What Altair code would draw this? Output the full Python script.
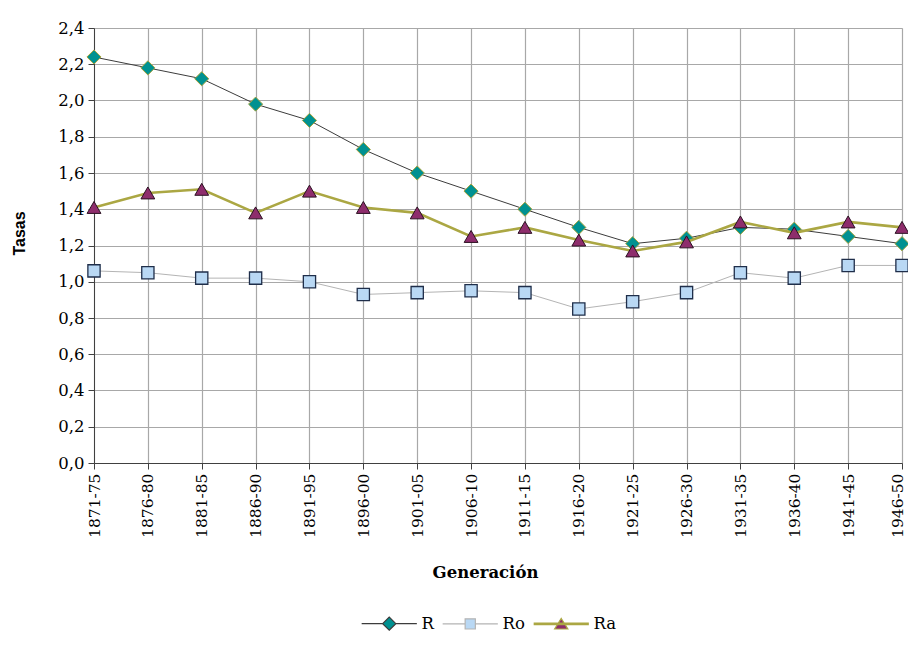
import altair as alt
import pandas as pd

generaciones = ["1871-75", "1876-80", "1881-85", "1886-90", "1891-95", "1896-00",
                "1901-05", "1906-10", "1911-15", "1916-20", "1921-25", "1926-30",
                "1931-35", "1936-40", "1941-45", "1946-50"]
R = [2.24, 2.18, 2.12, 1.98, 1.89, 1.73, 1.60, 1.50, 1.40, 1.30, 1.21, 1.24, 1.30, 1.29, 1.25, 1.21]
Ro = [1.06, 1.05, 1.02, 1.02, 1.00, 0.93, 0.94, 0.95, 0.94, 0.85, 0.89, 0.94, 1.05, 1.02, 1.09, 1.09]
Ra = [1.41, 1.49, 1.51, 1.38, 1.50, 1.41, 1.38, 1.25, 1.30, 1.23, 1.17, 1.22, 1.33, 1.27, 1.33, 1.30]
series = ["R", "Ro", "Ra"]
y_ticks = [0.0, 0.2, 0.4, 0.6, 0.8, 1.0, 1.2, 1.4, 1.6, 1.8, 2.0, 2.2, 2.4]

rows = []
for s, vals in zip(series, (R, Ro, Ra)):
    for g, v in zip(generaciones, vals):
        rows.append({"gen": g, "serie": s, "valor": v})
df = pd.DataFrame(rows)

styles = {
    "R": dict(line="#3c3c3c", lw=1.0, shape="diamond", fill="#009191", stroke="#a4a23c", sw=1.0, size=200),
    "Ro": dict(line="#b4b4b4", lw=1.0, shape="square", fill="#b9d8f4", stroke="#1f2e4a", sw=1.3, size=150),
    "Ra": dict(line="#aba743", lw=2.6, shape="triangle-up", fill="#8e2d6c", stroke="#2a1020", sw=1.0, size=190),
}

SERIF = "DejaVu Serif"
last_gen = generaciones[-1]

x_enc = alt.X("gen:N", sort=generaciones,
              scale=alt.Scale(type="point", padding=0),
              axis=alt.Axis(title="Generación", labelAngle=-90, labelFont=SERIF,
                            labelFontSize=15.5, labelColor="#000000", labelPadding=4,
                            labelOffset={"condition": {"test": f"datum.value === '{last_gen}'", "value": -5},
                                         "value": 0},
                            tickSize=6, tickColor="#404040", domainColor="#404040",
                            gridColor="#a8a8a8", gridWidth=1.2, grid=True,
                            titleFont=SERIF, titleFontSize=16.5, titleFontWeight="bold",
                            titleColor="#000000", titlePadding=27, titleX=391))
y_enc = alt.Y("valor:Q",
              scale=alt.Scale(domain=[0, 2.4], nice=False, zero=True),
              axis=alt.Axis(title="Tasas", values=y_ticks,
                            labelExpr="replace(format(datum.value, '.1f'), '.', ',')",
                            labelFont=SERIF, labelFontSize=16.5, labelColor="#000000",
                            labelPadding=4, tickSize=6, tickColor="#404040",
                            domainColor="#404040", gridColor="#a8a8a8", gridWidth=1.2,
                            titleFont="Liberation Sans", titleFontSize=16,
                            titleFontWeight="bold", titleColor="#000000", titlePadding=30,
                            titleY=205))

base = alt.Chart(df)
layers = []
for s in series:
    st = styles[s]
    sub = base.transform_filter(alt.datum.serie == s)
    layers.append(sub.mark_line(color=st["line"], strokeWidth=st["lw"]).encode(x=x_enc, y=y_enc))
    layers.append(sub.mark_point(shape=st["shape"], filled=True, fill=st["fill"],
                                 stroke=st["stroke"], strokeWidth=st["sw"],
                                 size=st["size"], opacity=1).encode(x=x_enc, y=y_enc))

legend_paths = [
    "M-4.6,0H-1.1M1.1,0H4.6M-1.1,0L0,-1.1L1.1,0L0,1.1Z",
    "M-4.6,0H-0.85M0.85,0H4.6M-0.85,-0.85H0.85V0.85H-0.85Z",
    "M-4.6,-0.12H4.6M-4.6,0H4.6M-4.6,0.12H4.6M0,-0.9L1.1,0.85L-1.1,0.85Z",
]
legend_layer = base.transform_filter("false").mark_point(filled=True, size=144, opacity=1).encode(
    shape=alt.Shape("serie:N", scale=alt.Scale(domain=series, range=legend_paths),
                    legend=alt.Legend(title=None, orient="none", legendX=287, legendY=587,
                                      direction="horizontal", labelFont=SERIF,
                                      labelFontSize=16.5, labelColor="#000000",
                                      labelOffset=24, columnPadding=6, symbolSize=144,
                                      symbolStrokeWidth=1.2, padding=0)),
    fill=alt.Fill("serie:N", scale=alt.Scale(domain=series, range=[styles[s]["fill"] for s in series])),
    stroke=alt.Stroke("serie:N", scale=alt.Scale(domain=series, range=[styles[s]["line"] for s in series])),
)

chart = alt.layer(*layers, legend_layer).properties(
    width=808, height=435,
    autosize=alt.AutoSizeParams(type="none"),
    padding={"left": 86, "top": 20, "right": 6, "bottom": 169},
).configure_view(stroke=None).configure(background="#ffffff")

chart.save("out.html", embed_options={"renderer": "svg", "actions": False})
